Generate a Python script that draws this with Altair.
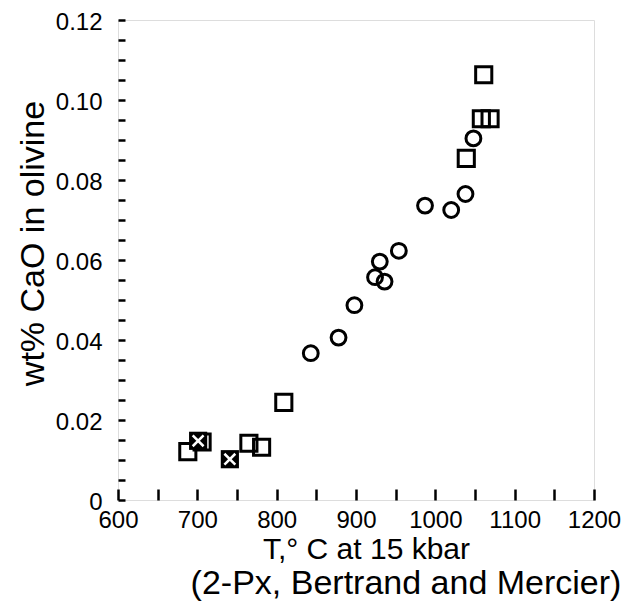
import altair as alt
import pandas as pd

# Open circles
circle_T = [843, 878, 898, 924, 930, 936, 954, 987, 1020, 1038, 1048]
circle_CaO = [0.0367, 0.0406, 0.0487, 0.0557, 0.0596, 0.0546, 0.0623, 0.0736, 0.0725, 0.0765, 0.0904]

# Open squares
square_T = [688, 706, 765, 781, 809, 1039, 1058, 1069, 1061]
square_CaO = [0.0121, 0.0145, 0.0142, 0.0132, 0.0244, 0.0854, 0.0953, 0.0953, 0.1063]

# Crossed (filled) squares
crossed_T = [701, 741]
crossed_CaO = [0.0148, 0.0102]

x_tick_values = list(range(600, 1201, 50))
y_tick_values = [round(i * 0.005, 3) for i in range(0, 25)]

circles = pd.DataFrame({"T": circle_T, "CaO": circle_CaO})
squares = pd.DataFrame({"T": square_T, "CaO": square_CaO})
crossed = pd.DataFrame({"T": crossed_T, "CaO": crossed_CaO})

FONT = "Liberation Sans"

x_enc = alt.X(
    "T:Q",
    scale=alt.Scale(domain=[600, 1200], nice=False, zero=False),
    axis=alt.Axis(
        values=x_tick_values,
        labelExpr="datum.value % 100 == 0 ? datum.label : ''",
        format="d",
        offset=-11,
        tickSize=11,
        tickWidth=2.5,
        tickColor="black",
        domain=False,
        grid=False,
        labelPadding=8,
        labelFontSize=24,
        labelFont=FONT,
        labelColor="black",
        labelFlush=False,
        labelOverlap=False,
        title="T,\u00b0 C at 15 kbar",
        titleFontSize=30,
        titleFont=FONT,
        titleFontWeight="normal",
        titleColor="black",
        titlePadding=2,
        titleX=248,
    ),
)
y_enc = alt.Y(
    "CaO:Q",
    scale=alt.Scale(domain=[0, 0.12], nice=False, zero=True),
    axis=alt.Axis(
        values=y_tick_values,
        labelExpr="round(datum.value * 1000) % 20 == 0 ? (datum.value == 0 ? '0' : format(datum.value, '.2f')) : ''",
        offset=-7,
        tickSize=7,
        tickWidth=2.5,
        tickColor="black",
        domain=False,
        grid=False,
        labelPadding=16,
        labelOffset=2,
        labelFontSize=24,
        labelFont=FONT,
        labelColor="black",
        labelFlush=False,
        labelOverlap=False,
        title="wt% CaO in olivine",
        titleFontSize=34,
        titleFont=FONT,
        titleFontWeight="normal",
        titleColor="black",
        titlePadding=5,
        titleY=223,
    ),
)

circ = alt.Chart(circles).mark_point(
    shape="circle", filled=False, color="black", strokeWidth=3, size=220, opacity=1
).encode(x=x_enc, y=y_enc)

sq = alt.Chart(squares).mark_point(
    shape="square", filled=False, color="black", strokeWidth=3, size=260, opacity=1
).encode(x=x_enc, y=y_enc)

cr_bg = alt.Chart(crossed).mark_point(
    shape="square", filled=True, color="black", size=330, opacity=1
).encode(x=x_enc, y=y_enc)

cr_x = alt.Chart(crossed).mark_point(
    shape="M-0.6,-0.6L0.6,0.6M-0.6,0.6L0.6,-0.6",
    filled=False, color="white", strokeWidth=2.5, size=330, opacity=1
).encode(x=x_enc, y=y_enc)

chart = alt.layer(sq, circ, cr_bg, cr_x).properties(
    width=476,
    height=480,
    autosize=alt.AutoSizeParams(type="none"),
    padding={"left": 110, "top": 12, "right": 38, "bottom": 106},
    title=alt.TitleParams(
        "(2-Px, Bertrand and Mercier)",
        orient="bottom",
        anchor="middle",
        fontSize=34,
        font=FONT,
        fontWeight="normal",
        color="black",
        dx=50,
        offset=3,
    ),
).configure_view(
    stroke="black", strokeWidth=3
).configure(background="white")

chart.save("out.html", embed_options={"renderer": "svg", "actions": False})
